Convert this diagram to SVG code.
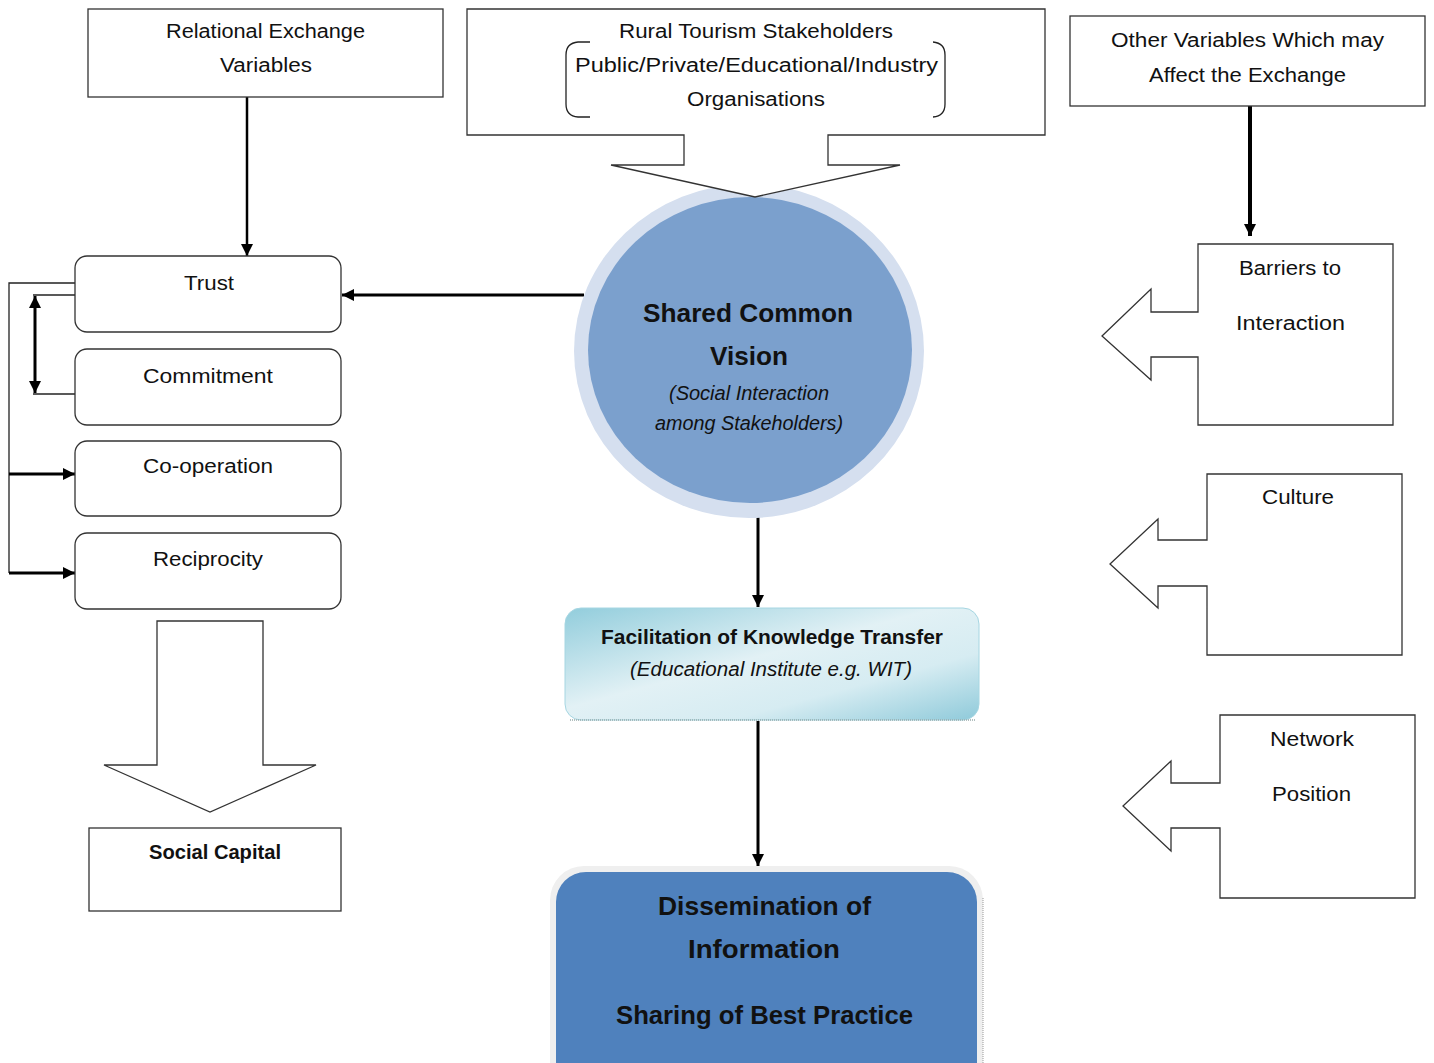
<svg xmlns="http://www.w3.org/2000/svg" width="1434" height="1063" viewBox="0 0 1434 1063">
<style>
.box{fill:#fff;stroke:#333;stroke-width:1.3}
.t{font-family:"Liberation Sans",Arial,sans-serif;font-size:20px;fill:#111;text-anchor:middle}
.b{font-weight:bold}
.i{font-style:italic}
.big{font-size:26px}
.ln{fill:none;stroke:#000}
.thin{fill:none;stroke:#222;stroke-width:1.3}
</style>
<defs>
<marker id="ah" viewBox="0 0 10 10" refX="10" refY="5" markerWidth="12" markerHeight="12" markerUnits="userSpaceOnUse" orient="auto-start-reverse">
<path d="M0,0 L10,5 L0,10 z" fill="#000"/>
</marker>
<linearGradient id="fg" x1="0" y1="0" x2="1" y2="1">
<stop offset="0" stop-color="#92CDDC"/>
<stop offset="0.45" stop-color="#E2F1F5"/>
<stop offset="0.7" stop-color="#D6ECF2"/>
<stop offset="1" stop-color="#8FCADA"/>
</linearGradient>
</defs>
<rect width="1434" height="1063" fill="#fff"/>

<g id="connectors">
<line class="ln" x1="247" y1="97" x2="247" y2="256" stroke-width="2.5" marker-end="url(#ah)"/>
<line class="ln" x1="584" y1="295" x2="342" y2="295" stroke-width="3" marker-end="url(#ah)"/>
<line class="ln" x1="1250" y1="106" x2="1250" y2="236" stroke-width="4" marker-end="url(#ah)"/>
<line class="ln" x1="758" y1="503" x2="758" y2="607" stroke-width="3" marker-end="url(#ah)"/>
<line class="ln" x1="758" y1="721" x2="758" y2="866" stroke-width="3" marker-end="url(#ah)"/>
<polyline class="thin" points="75,283 9,283 9,573"/>
<line class="ln" x1="9" y1="474" x2="75" y2="474" stroke-width="3" marker-end="url(#ah)"/>
<line class="ln" x1="9" y1="573" x2="75" y2="573" stroke-width="3" marker-end="url(#ah)"/>
<line class="thin" x1="75" y1="295" x2="33" y2="295"/>
<line class="thin" x1="75" y1="394" x2="33" y2="394"/>
<line class="ln" x1="35" y1="296" x2="35" y2="393" stroke-width="3" marker-start="url(#ah)" marker-end="url(#ah)"/>
</g>

<g id="relational">
<rect class="box" x="88" y="9" width="355" height="88"/>
<text class="t" x="265.5" y="38" textLength="199" lengthAdjust="spacingAndGlyphs">Relational Exchange</text>
<text class="t" x="266" y="72" textLength="92" lengthAdjust="spacingAndGlyphs">Variables</text>
</g>

<g id="vision">
<ellipse cx="749" cy="351" rx="175" ry="167" fill="#D5DFEF"/>
<ellipse cx="750" cy="350" rx="162" ry="153" fill="#7BA0CD"/>
<text class="t b big" x="748" y="322" textLength="210" lengthAdjust="spacingAndGlyphs">Shared Common</text>
<text class="t b big" x="749" y="365" textLength="78" lengthAdjust="spacingAndGlyphs">Vision</text>
<text class="t i" x="749" y="400" font-size="18" fill="#222" textLength="160" lengthAdjust="spacingAndGlyphs">(Social Interaction</text>
<text class="t i" x="749" y="430" font-size="18" fill="#222" textLength="188" lengthAdjust="spacingAndGlyphs">among Stakeholders)</text>
</g>

<g id="stakeholders">
<path class="box" d="M467,9 H1045 V135 H828 V165 H900 L755,197 L611,165 H684 V135 H467 Z"/>
<path class="thin" d="M590,42 H578 Q566,43 566,55 V104 Q566,116 578,117 H590"/>
<path class="thin" d="M933,42 Q945,43 945,55 V104 Q945,116 933,117"/>
<text class="t" x="756" y="38" textLength="274" lengthAdjust="spacingAndGlyphs">Rural Tourism Stakeholders</text>
<text class="t" x="756.5" y="72" textLength="363" lengthAdjust="spacingAndGlyphs">Public/Private/Educational/Industry</text>
<text class="t" x="756" y="106" textLength="138" lengthAdjust="spacingAndGlyphs">Organisations</text>
</g>

<g id="other">
<rect class="box" x="1070" y="16" width="355" height="90"/>
<text class="t" x="1247.5" y="47" textLength="273" lengthAdjust="spacingAndGlyphs">Other Variables Which may</text>
<text class="t" x="1247.5" y="82" textLength="197" lengthAdjust="spacingAndGlyphs">Affect the Exchange</text>
</g>

<g id="trust">
<rect class="box" x="75" y="256" width="266" height="76" rx="12"/>
<text class="t" x="209" y="290" textLength="50" lengthAdjust="spacingAndGlyphs">Trust</text>
</g>
<g id="commitment">
<rect class="box" x="75" y="349" width="266" height="76" rx="12"/>
<text class="t" x="208" y="383" textLength="130" lengthAdjust="spacingAndGlyphs">Commitment</text>
</g>
<g id="cooperation">
<rect class="box" x="75" y="441" width="266" height="75" rx="12"/>
<text class="t" x="208" y="473" textLength="130" lengthAdjust="spacingAndGlyphs">Co-operation</text>
</g>
<g id="reciprocity">
<rect class="box" x="75" y="533" width="266" height="76" rx="12"/>
<text class="t" x="208" y="566" textLength="110" lengthAdjust="spacingAndGlyphs">Reciprocity</text>
</g>

<g id="social-arrow">
<path class="box" d="M157,621 H263 V765 H316 L210,812 L104,765 H157 Z"/>
</g>
<g id="social-capital">
<rect class="box" x="89" y="828" width="252" height="83"/>
<text class="t b" x="215" y="859" textLength="132" lengthAdjust="spacingAndGlyphs">Social Capital</text>
</g>

<g id="facilitation">
<rect x="565" y="608" width="414" height="112" rx="16" fill="url(#fg)" stroke="#A6D6E2" stroke-width="1"/>
<line x1="570" y1="720" x2="975" y2="720" stroke="#9aa" stroke-width="1.5" stroke-dasharray="1,1"/>
<text class="t b" x="772" y="644" textLength="342" lengthAdjust="spacingAndGlyphs">Facilitation of Knowledge Transfer</text>
<text class="t i" x="771" y="676" textLength="282" lengthAdjust="spacingAndGlyphs">(Educational Institute e.g. WIT)</text>
</g>

<g id="dissemination">
<rect x="550" y="866" width="433" height="230" rx="34" fill="#EFEFEF"/>
<rect x="556" y="872" width="421" height="220" rx="30" fill="#4F81BD"/>
<line x1="983" y1="898" x2="983" y2="1063" stroke="#999" stroke-width="1" stroke-dasharray="1,1"/>
<text class="t b big" x="764.5" y="915" textLength="213" lengthAdjust="spacingAndGlyphs">Dissemination of</text>
<text class="t b big" x="764" y="958" textLength="152" lengthAdjust="spacingAndGlyphs">Information</text>
<text class="t b big" x="764.5" y="1024" textLength="297" lengthAdjust="spacingAndGlyphs">Sharing of Best Practice</text>
</g>

<g id="barriers">
<path class="box" d="M1198,244 H1393 V425 H1198 V357 H1151 V380 L1102,336 L1151,289 V312 H1198 Z"/>
<text class="t" x="1290" y="275" textLength="102" lengthAdjust="spacingAndGlyphs">Barriers to</text>
<text class="t" x="1290.5" y="330" textLength="109" lengthAdjust="spacingAndGlyphs">Interaction</text>
</g>

<g id="culture">
<path class="box" d="M1207,474 H1402 V655 H1207 V586 H1158 V608 L1110,564 L1158,519 V540 H1207 Z"/>
<text class="t" x="1298" y="504" textLength="72" lengthAdjust="spacingAndGlyphs">Culture</text>
</g>

<g id="network">
<path class="box" d="M1220,715 H1415 V898 H1220 V828 H1171 V851 L1123,806 L1171,761 V783 H1220 Z"/>
<text class="t" x="1312" y="746" textLength="84" lengthAdjust="spacingAndGlyphs">Network</text>
<text class="t" x="1311.5" y="801" textLength="79" lengthAdjust="spacingAndGlyphs">Position</text>
</g>
</svg>
